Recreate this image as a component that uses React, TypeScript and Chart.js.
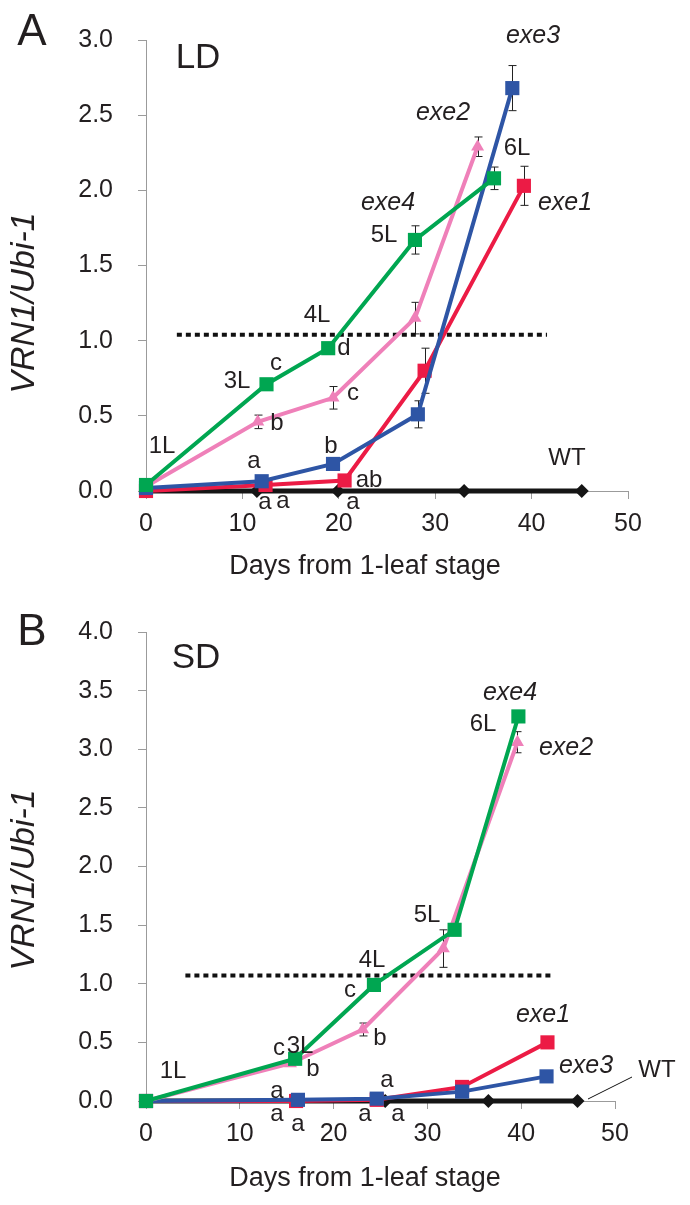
import React, { useEffect, useRef } from "react";
import { Chart, registerables } from "chart.js";

Chart.register(...registerables);

const FONT = "'Liberation Sans', Arial, Helvetica, sans-serif";
const TEXT = "#231f20";
const AXIS = "#9b9b9b";

const GREEN = "#00a651";
const PINK = "#ef80b9";
const BLUE = "#2e55a5";
const RED = "#ec1b45";
const BLACK = "#151515";

// ---------- shared ticks ----------
const xTickDays = [0, 10, 20, 30, 40, 50];
const ldYTicks = [0, 0.5, 1.0, 1.5, 2.0, 2.5, 3.0];
const sdYTicks = [0, 0.5, 1.0, 1.5, 2.0, 2.5, 3.0, 3.5, 4.0];

// ---------- Panel A: LD ----------
const ldExe1Days = [0, 12.4, 20.6, 28.9, 39.2];
const ldExe1Vals = [0.0, 0.04, 0.07, 0.8, 2.03];
const ldExe1Err = [0, 0, 0, 0.15, 0.13];

const ldExe3Days = [0, 12.0, 19.4, 28.2, 38.0];
const ldExe3Vals = [0.02, 0.065, 0.18, 0.51, 2.68];
const ldExe3Err = [0, 0, 0, 0.09, 0.15];

const ldExe2Days = [0, 11.6, 19.4, 27.9, 34.4];
const ldExe2Vals = [0.03, 0.46, 0.62, 1.15, 2.29];
const ldExe2Err = [0, 0.045, 0.075, 0.105, 0.065];

const ldExe4Days = [0, 12.5, 18.9, 27.9, 36.1];
const ldExe4Vals = [0.04, 0.71, 0.95, 1.67, 2.08];
const ldExe4Err = [0, 0, 0, 0.094, 0.075];

const ldWtDays = [0, 11.5, 19.9, 33.0, 45.2];
const ldWtVals = [0, 0, 0, 0, 0];

const ldThresholdDays = [3.2, 41.6];
const ldThresholdVals = [1.04, 1.04];

// ---------- Panel B: SD ----------
const sdExe1Days = [0, 16.0, 24.6, 33.7, 42.8];
const sdExe1Vals = [0, 0.0, 0.01, 0.12, 0.5];

const sdExe3Days = [0, 16.2, 24.6, 33.7, 42.7];
const sdExe3Vals = [0, 0.01, 0.02, 0.08, 0.21];

const sdExe2Days = [0, 15.4, 23.1, 31.7, 39.6];
const sdExe2Vals = [0, 0.32, 0.61, 1.3, 3.06];
const sdExe2Err = [0, 0, 0.055, 0.16, 0.09];

const sdExe4Days = [0, 15.9, 24.3, 32.9, 39.7];
const sdExe4Vals = [0, 0.36, 0.99, 1.46, 3.28];

const sdWtDays = [0, 16.0, 25.5, 36.5, 46.0];
const sdWtVals = [0, 0, 0, 0, 0];

const sdThresholdDays = [4.2, 43.4];
const sdThresholdVals = [1.07, 1.07];

// ---------- text labels ----------
type Label = { t: string; x: number; y: number; size?: number; it?: boolean };

const ldLabels: Label[] = [
  { t: "A", x: 32, y: 45, size: 44 },
  { t: "LD", x: 198, y: 68, size: 35 },
  { t: "exe3", x: 533, y: 43, it: true },
  { t: "exe2", x: 443, y: 120, it: true },
  { t: "6L", x: 517, y: 155 },
  { t: "exe4", x: 388, y: 210, it: true },
  { t: "5L", x: 384, y: 242 },
  { t: "exe1", x: 565, y: 210, it: true },
  { t: "WT", x: 567, y: 465 },
  { t: "4L", x: 317, y: 322 },
  { t: "d", x: 344, y: 355 },
  { t: "3L", x: 237, y: 388 },
  { t: "c", x: 276, y: 370 },
  { t: "b", x: 277, y: 430 },
  { t: "c", x: 353, y: 400 },
  { t: "1L", x: 162, y: 453 },
  { t: "a", x: 254, y: 468 },
  { t: "b", x: 331, y: 453 },
  { t: "ab", x: 369, y: 487 },
  { t: "a", x: 265, y: 509 },
  { t: "a", x: 283, y: 508 },
  { t: "a", x: 353, y: 509 },
];

const sdLabels: Label[] = [
  { t: "B", x: 32, y: 55, size: 44 },
  { t: "SD", x: 196, y: 78, size: 35 },
  { t: "exe4", x: 510, y: 110, it: true },
  { t: "6L", x: 483, y: 141 },
  { t: "exe2", x: 566, y: 165, it: true },
  { t: "5L", x: 427, y: 332 },
  { t: "4L", x: 372, y: 377 },
  { t: "c", x: 350, y: 407 },
  { t: "b", x: 380, y: 455 },
  { t: "exe1", x: 543, y: 432, it: true },
  { t: "exe3", x: 586, y: 483, it: true },
  { t: "WT", x: 657, y: 487 },
  { t: "a", x: 387, y: 497 },
  { t: "a", x: 365, y: 531 },
  { t: "a", x: 398, y: 531 },
  { t: "1L", x: 173, y: 488 },
  { t: "3L", x: 300, y: 463 },
  { t: "c", x: 279, y: 465 },
  { t: "b", x: 313, y: 486 },
  { t: "a", x: 277, y: 508 },
  { t: "a", x: 277, y: 531 },
  { t: "a", x: 298, y: 541 },
];

type Series = {
  label: string;
  days: number[];
  vals: number[];
  err?: number[];
  color: string;
  shape: string;
  radius: number;
  width: number;
  order: number;
};

type Panel = {
  top: number;
  height: number;
  yMax: number;
  yTicks: number[];
  padTop: number;
  padRight: number;
  xAxisH: number;
  series: Series[];
  thrDays: number[];
  thrVals: number[];
  labels: Label[];
  yTitleY: number;
  xTitleBase: number;
  leader?: number[];
};

const ldPanel: Panel = {
  top: 0,
  height: 590,
  yMax: 3,
  yTicks: ldYTicks,
  padTop: 29,
  padRight: 62,
  xAxisH: 99,
  series: [
    { label: "WT", days: ldWtDays, vals: ldWtVals, color: BLACK, shape: "rectRot", radius: 7, width: 5, order: 6 },
    { label: "exe1", days: ldExe1Days, vals: ldExe1Vals, err: ldExe1Err, color: RED, shape: "rect", radius: 10, width: 4, order: 5 },
    { label: "exe3", days: ldExe3Days, vals: ldExe3Vals, err: ldExe3Err, color: BLUE, shape: "rect", radius: 10, width: 4, order: 4 },
    { label: "exe2", days: ldExe2Days, vals: ldExe2Vals, err: ldExe2Err, color: PINK, shape: "triangle", radius: 7.5, width: 4, order: 3 },
    { label: "exe4", days: ldExe4Days, vals: ldExe4Vals, err: ldExe4Err, color: GREEN, shape: "rect", radius: 10, width: 4, order: 2 },
  ],
  thrDays: ldThresholdDays,
  thrVals: ldThresholdVals,
  labels: ldLabels,
  yTitleY: 303,
  xTitleBase: 574,
};

const sdPanel: Panel = {
  top: 590,
  height: 615,
  yMax: 4,
  yTicks: sdYTicks,
  padTop: 42,
  padRight: 75,
  xAxisH: 104,
  series: [
    { label: "WT", days: sdWtDays, vals: sdWtVals, color: BLACK, shape: "rectRot", radius: 7, width: 5, order: 6 },
    { label: "exe1", days: sdExe1Days, vals: sdExe1Vals, color: RED, shape: "rect", radius: 10, width: 4, order: 5 },
    { label: "exe3", days: sdExe3Days, vals: sdExe3Vals, color: BLUE, shape: "rect", radius: 10, width: 4, order: 4 },
    { label: "exe2", days: sdExe2Days, vals: sdExe2Vals, err: sdExe2Err, color: PINK, shape: "triangle", radius: 7.5, width: 4, order: 3 },
    { label: "exe4", days: sdExe4Days, vals: sdExe4Vals, color: GREEN, shape: "rect", radius: 10, width: 4, order: 2 },
  ],
  thrDays: sdThresholdDays,
  thrVals: sdThresholdVals,
  labels: sdLabels,
  yTitleY: 290,
  xTitleBase: 596,
  leader: [588, 509, 632, 487],
};

function buildConfig(p: Panel): any {
  const datasets: any[] = [
    {
      label: "threshold",
      data: p.thrDays.map((x, i) => ({ x, y: p.thrVals[i] })),
      borderColor: "#111111",
      borderWidth: 4,
      borderDash: [5, 4],
      pointRadius: 0,
      fill: false,
      order: 10,
    },
  ];
  p.series.forEach((s) => {
    datasets.push({
      label: s.label,
      data: s.days.map((x, i) => ({ x, y: s.vals[i] })),
      borderColor: s.color,
      backgroundColor: s.color,
      borderWidth: s.width,
      pointStyle: s.shape,
      pointRadius: s.radius,
      pointBorderWidth: 0,
      pointBackgroundColor: s.color,
      pointBorderColor: s.color,
      tension: 0,
      fill: false,
      order: s.order,
      clip: false,
    });
  });

  const overlay = {
    id: "overlay",
    beforeDatasetsDraw(chart: any) {
      const ctx = chart.ctx;
      const xs = chart.scales.x;
      const ys = chart.scales.y;
      ctx.save();
      ctx.strokeStyle = "#222222";
      ctx.lineWidth = 1;
      p.series.forEach((s) => {
        if (!s.err) return;
        s.err.forEach((e, i) => {
          if (!e) return;
          const x = Math.round(xs.getPixelForValue(s.days[i])) + 0.5;
          const y1 = ys.getPixelForValue(s.vals[i] + e);
          const y2 = ys.getPixelForValue(s.vals[i] - e);
          ctx.beginPath();
          ctx.moveTo(x, y1);
          ctx.lineTo(x, y2);
          ctx.moveTo(x - 4, y1);
          ctx.lineTo(x + 4, y1);
          ctx.moveTo(x - 4, y2);
          ctx.lineTo(x + 4, y2);
          ctx.stroke();
        });
      });
      ctx.restore();
    },
    afterDraw(chart: any) {
      const ctx = chart.ctx;
      ctx.save();
      ctx.fillStyle = TEXT;
      ctx.textAlign = "center";
      ctx.textBaseline = "alphabetic";
      p.labels.forEach((l) => {
        ctx.font = `${l.it ? "italic " : ""}${l.size || (l.it ? 25 : 24)}px ${FONT}`;
        ctx.fillText(l.t, l.x, l.y);
      });
      // x axis title
      ctx.font = `27px ${FONT}`;
      ctx.fillText("Days from 1-leaf stage", 365, p.xTitleBase);
      // y axis title
      ctx.save();
      ctx.translate(25, p.yTitleY);
      ctx.rotate(-Math.PI / 2);
      ctx.textBaseline = "middle";
      ctx.font = `italic 34px ${FONT}`;
      ctx.fillText("VRN1/Ubi-1", 0, 0);
      ctx.restore();
      if (p.leader) {
        ctx.strokeStyle = "#111111";
        ctx.lineWidth = 1;
        ctx.beginPath();
        ctx.moveTo(p.leader[0], p.leader[1]);
        ctx.lineTo(p.leader[2], p.leader[3]);
        ctx.stroke();
      }
      ctx.restore();
    },
  };

  const gridOpts = {
    drawOnChartArea: false,
    drawTicks: true,
    tickLength: 8,
    color: AXIS,
    lineWidth: 1,
  };

  return {
    type: "line",
    data: { datasets },
    options: {
      responsive: false,
      animation: false,
      events: [],
      layout: { padding: { left: 0, top: p.padTop, right: p.padRight, bottom: 0 } },
      plugins: { legend: { display: false }, tooltip: { enabled: false } },
      scales: {
        x: {
          type: "linear",
          min: 0,
          max: 50,
          afterFit: (s: any) => {
            s.height = p.xAxisH;
          },
          afterBuildTicks: (s: any) => {
            s.ticks = xTickDays.map((v) => ({ value: v }));
          },
          ticks: {
            font: { family: FONT, size: 25 },
            color: TEXT,
            padding: 10,
            maxRotation: 0,
            callback: (v: any) => String(v),
          },
          grid: gridOpts,
          border: { display: true, color: AXIS, width: 1 },
        },
        y: {
          type: "linear",
          min: 0,
          max: p.yMax,
          afterFit: (s: any) => {
            s.width = 146;
          },
          afterBuildTicks: (s: any) => {
            s.ticks = p.yTicks.map((v) => ({ value: v }));
          },
          ticks: {
            font: { family: FONT, size: 25 },
            color: TEXT,
            padding: 25,
            callback: (v: any) => Number(v).toFixed(1),
          },
          grid: gridOpts,
          border: { display: true, color: AXIS, width: 1 },
        },
      },
    },
    plugins: [overlay],
  };
}

function PanelChart({ panel }: { panel: Panel }) {
  const ref = useRef<HTMLCanvasElement>(null);
  useEffect(() => {
    const chart = new Chart(ref.current as HTMLCanvasElement, buildConfig(panel));
    return () => chart.destroy();
  }, [panel]);
  return (
    <canvas
      ref={ref}
      width={690}
      height={panel.height}
      style={{ position: "absolute", left: 0, top: panel.top, width: 690, height: panel.height, display: "block" }}
    />
  );
}

export default function App() {
  return (
    <div style={{ position: "absolute", left: 0, top: 0, width: 690, height: 1205, background: "#ffffff", overflow: "hidden" }}>
      <PanelChart panel={ldPanel} />
      <PanelChart panel={sdPanel} />
    </div>
  );
}
